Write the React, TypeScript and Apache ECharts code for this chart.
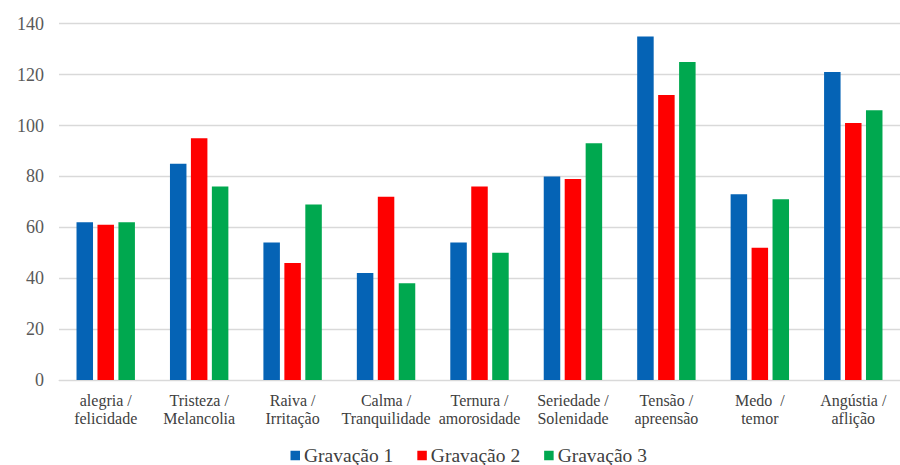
import React, { useEffect, useRef } from "react";
import * as echarts from "echarts";

const categories = [
  "alegria /\nfelicidade",
  "Tristeza /\nMelancolia",
  "Raiva /\nIrritação",
  "Calma /\nTranquilidade",
  "Ternura /\namorosidade",
  "Seriedade /\nSolenidade",
  "Tensão /\napreensão",
  "Medo  /\ntemor",
  "Angústia /\naflição",
];
const gravacao1 = [62, 85, 54, 42, 54, 80, 135, 73, 121];
const gravacao2 = [61, 95, 46, 72, 76, 79, 112, 52, 101];
const gravacao3 = [62, 76, 69, 38, 50, 93, 125, 71, 106];
const seriesNames = ["Gravação 1", "Gravação 2", "Gravação 3"];
const colors = ["#0563b5", "#fe0000", "#00a84f"];

export default function App() {
  const ref = useRef<HTMLDivElement>(null);
  useEffect(() => {
    if (!ref.current) return;
    const chart = echarts.init(ref.current, null, { renderer: "svg" });
    const font = "Liberation Serif";
    const data = [gravacao1, gravacao2, gravacao3];
    chart.setOption({
      animation: false,
      color: colors,
      textStyle: { fontFamily: font },
      grid: { left: 59, top: 23.7, width: 854, height: 356.3, containLabel: false },
      legend: {
        left: 290.5,
        top: 445.5,
        padding: 0,
        itemWidth: 9.5,
        itemHeight: 9.5,
        itemGap: 24,
        icon: "rect",
        textStyle: { fontFamily: font, fontSize: 19.5, lineHeight: 19, color: "#404040", padding: [0, 0, 0, -1] },
        data: seriesNames,
      },
      xAxis: {
        type: "category",
        data: categories,
        axisLine: { show: true, lineStyle: { color: "#d9d9d9", width: 1 } },
        axisTick: { show: false },
        axisLabel: {
          interval: 0,
          margin: 11,
          fontFamily: font,
          fontSize: 16,
          lineHeight: 18,
          color: "#404040",
        },
      },
      yAxis: {
        type: "value",
        min: 0,
        max: 140,
        interval: 20,
        axisLine: { show: false },
        axisTick: { show: false },
        splitLine: { lineStyle: { color: "#d9d9d9", width: 1.3 } },
        axisLabel: { margin: 15, fontFamily: font, fontSize: 18, color: "#595959" },
      },
      series: data.map((d, i) => ({
        name: seriesNames[i],
        type: "bar",
        data: d,
        barWidth: 16.5,
        barGap: "27%",
        itemStyle: { color: colors[i] },
      })),
    });
    return () => chart.dispose();
  }, []);
  return (
    <div
      ref={ref}
      style={{ position: "fixed", left: 0, top: 0, width: 900, height: 465, background: "#fff" }}
    />
  );
}
